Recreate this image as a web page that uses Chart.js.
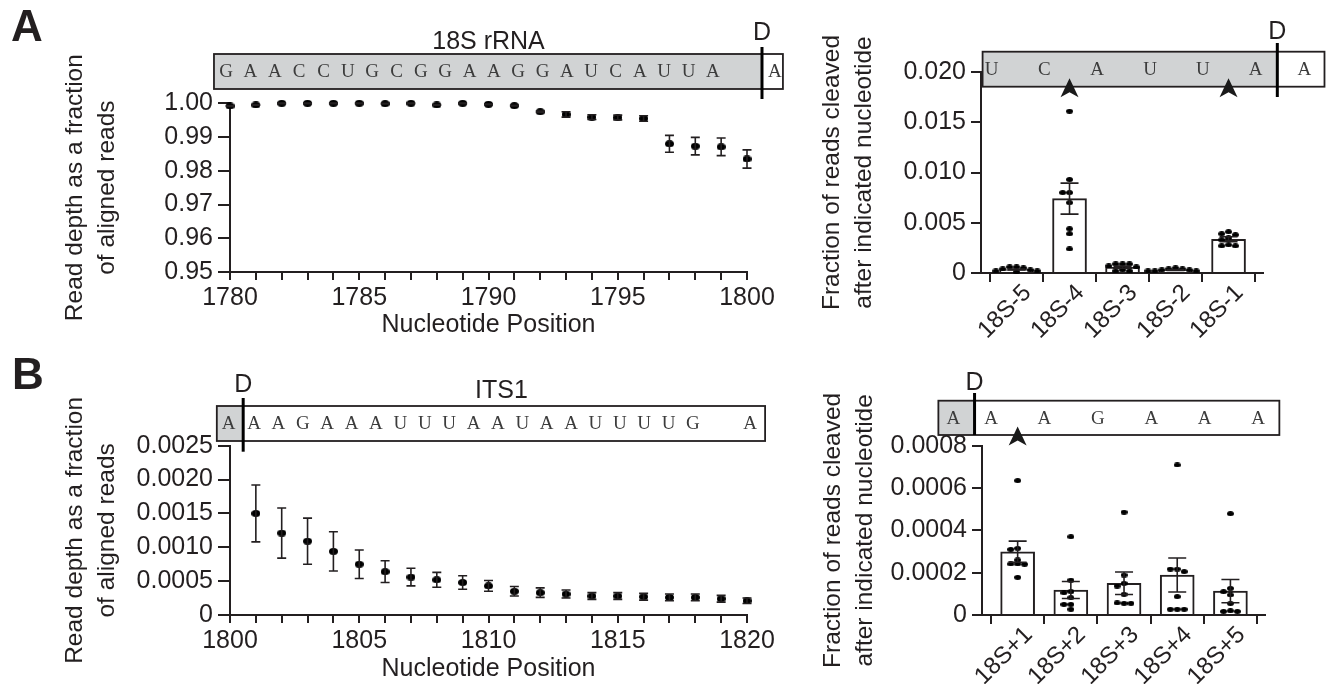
<!DOCTYPE html>
<html>
<head>
<meta charset="utf-8">
<script src="https://cdn.jsdelivr.net/npm/chart.js@4.4.1/dist/chart.umd.min.js"></script>
<style>
html,body{margin:0;padding:0;background:#fff;}
#wrap{position:relative;width:1330px;height:684px;overflow:hidden;background:#fff;}
#wrap canvas{position:absolute;}
.panel{position:absolute;font-family:'Liberation Sans',Arial,sans-serif;font-weight:bold;font-size:44px;line-height:44px;color:#231f20;}
</style>
</head>
<body>
<div id="wrap">
  <canvas id="a1" width="800" height="340" style="left:0;top:0"></canvas>
  <canvas id="a2" width="530" height="340" style="left:800px;top:0"></canvas>
  <canvas id="b1" width="800" height="344" style="left:0;top:340px"></canvas>
  <canvas id="b2" width="530" height="344" style="left:800px;top:340px"></canvas>
  <div class="panel" style="left:11px;top:4px">A</div>
  <div class="panel" style="left:12px;top:352px">B</div>
</div>
<script>
// ---------------- DATA ----------------
// Panel A, left: read depth across the 3' end of 18S rRNA
const positionsA = [1780,1781,1782,1783,1784,1785,1786,1787,1788,1789,1790,1791,1792,1793,1794,1795,1796,1797,1798,1799,1800];
const depthA = [0.9992,0.9995,1.0000,1.0000,1.0000,1.0000,0.9999,1.0000,0.9995,1.0000,0.9997,0.9993,0.9975,0.9967,0.9959,0.9958,0.9955,0.9880,0.9873,0.9871,0.9835];
const depthSemA = [0.0001,0.0001,0.0001,0.0001,0.0001,0.0001,0.0001,0.0001,0.0001,0.0001,0.0001,0.0001,0.0002,0.0008,0.0007,0.0007,0.0008,0.0025,0.0026,0.0026,0.0027];
const yTicksA = [0.95,0.96,0.97,0.98,0.99,1.00];

// Panel B, left: read depth into ITS1
const positionsB = [1801,1802,1803,1804,1805,1806,1807,1808,1809,1810,1811,1812,1813,1814,1815,1816,1817,1818,1819,1820];
const depthB = [0.00150,0.00121,0.00109,0.00094,0.00075,0.00064,0.00056,0.00052,0.00048,0.00043,0.00035,0.00033,0.00031,0.00028,0.00028,0.00027,0.00026,0.00026,0.00024,0.00021];
const depthSemB = [0.00042,0.00037,0.00034,0.00029,0.00021,0.00016,0.00013,0.00011,0.00010,0.00008,0.00007,0.00007,0.00006,0.00005,0.00005,0.00005,0.00005,0.00005,0.00005,0.00004];

// Panel A, right: fraction of reads cleaved after nucleotide
const categoriesA = ['18S-5','18S-4','18S-3','18S-2','18S-1'];
const meanA = [0.00035,0.0074,0.00058,0.0003,0.00336];
const semA = [0.00005,0.00154,0.0001,0.00004,0.00025];
const dotsA = [
  [0.0006,0.0006,0.0005,0.0004,0.0003,0.0002,0.0002,0.0001],
  [0.0161,0.0093,0.0080,0.0080,0.0070,0.0044,0.0039,0.0024],
  [0.0009,0.0009,0.0009,0.0007,0.0006,0.0003,0.0002,0.0002],
  [0.0005,0.0004,0.0004,0.0003,0.0003,0.0002,0.0002,0.0002],
  [0.0041,0.0039,0.0038,0.0035,0.0033,0.0028,0.0027,0.0027]
];

// Panel B, right
const categoriesB = ['18S+1','18S+2','18S+3','18S+4','18S+5'];
const meanB = [0.000299,0.000118,0.00015,0.000189,0.000113];
const semB = [0.00005,0.00004,0.000053,0.00008,0.000055];
const dotsB = [
  [0.000635,0.000315,0.00031,0.00026,0.000241,0.000241,0.00024,0.000178],
  [0.00037,0.000165,0.00011,0.000105,0.000082,0.00005,0.00005,0.000027],
  [0.000486,0.000189,0.00015,0.000137,0.000098,0.000055,0.000057,0.000055],
  [0.000709,0.000217,0.000217,0.000205,0.000087,0.000027,0.000027,0.000027],
  [0.000479,0.000126,0.00011,0.000095,0.000055,0.00002,0.000017,0.000017]
];

// Sequences shown above the plots
const seq18S = 'GAACCUGCGGAAGGAUCAUUA';
const seqA2 = 'UCAUUA';
const seqITS1 = 'AAGAAAUUUAAUAAUUUUG';
const seqB2 = 'AAGAAA';
const arrowsA = [1, 4];   // category indices marked with arrowheads
const arrowsB = [0];

// ---------------- STYLE / HELPERS ----------------
const INK = '#231f20';
Chart.defaults.font.family = "'Liberation Sans', Arial, sans-serif";
Chart.defaults.font.size = 25;
Chart.defaults.color = INK;

function ellipseDot(w, h) {
  const c = document.createElement('canvas');
  c.width = w; c.height = h;
  const g = c.getContext('2d');
  g.fillStyle = '#000';
  g.beginPath(); g.ellipse(w/2, h/2, w/2, h/2, 0, 0, Math.PI*2); g.fill();
  return c;
}
const bigDot = ellipseDot(9, 7);
const smallDot = ellipseDot(7, 5);

// simple beeswarm spread of replicate dots around each category
function swarm(groups, range, step) {
  const tol = range * 0.02;
  const out = [];
  groups.forEach((vals, c) => {
    const placed = [];
    vals.forEach(v => {
      const near = placed.filter(p => Math.abs(p.y - v) < tol).map(p => p.off);
      let off = 0;
      for (let k = 0; k < 30; k++) {
        const cand = k === 0 ? 0 : (k % 2 ? -1 : 1) * Math.ceil(k/2) * step;
        if (!near.some(o => Math.abs(o - cand) < step*0.6)) { off = cand; break; }
      }
      placed.push({y: v, off});
      out.push({x: c + off, y: v});
    });
  });
  return out;
}

const errorBars = {
  id: 'errorBars',
  afterDatasetsDraw(chart) {
    const ctx = chart.ctx, ys = chart.scales.y;
    chart.data.datasets.forEach((ds, di) => {
      if (!ds.errors) return;
      const meta = chart.getDatasetMeta(di);
      ctx.save();
      ctx.strokeStyle = INK;
      ctx.lineWidth = 1.6;
      meta.data.forEach((el, i) => {
        const d = ds.data[i];
        const val = typeof d === 'object' ? d.y : d;
        const e = ds.errors[i];
        const x = el.x;
        const y1 = ys.getPixelForValue(val + e), y2 = ys.getPixelForValue(val - e);
        const w = ds.capWidth / 2;
        ctx.beginPath();
        ctx.moveTo(x, y1); ctx.lineTo(x, y2);
        ctx.moveTo(x - w, y1); ctx.lineTo(x + w, y1);
        ctx.moveTo(x - w, y2); ctx.lineTo(x + w, y2);
        ctx.stroke();
      });
      ctx.restore();
    });
  }
};

function seqPlugin(o) {
  return {
    id: 'seqBox',
    afterDraw(chart) {
      const ctx = chart.ctx, xs = chart.scales.x, top = chart.chartArea.top;
      const px = v => xs.getPixelForValue(v);
      const bx0 = px(o.from), bx1 = px(o.to), dx = px(o.d);
      const by0 = top + o.top, by1 = top + o.bottom;
      ctx.save();
      ctx.fillStyle = '#ffffff';
      ctx.fillRect(bx0, by0, bx1 - bx0, by1 - by0);
      ctx.fillStyle = '#d1d3d4';
      ctx.fillRect(bx0, by0, dx - bx0, by1 - by0);
      ctx.strokeStyle = INK; ctx.lineWidth = 1.8;
      ctx.strokeRect(bx0, by0, bx1 - bx0, by1 - by0);
      ctx.font = "19px 'Liberation Serif', serif";
      ctx.fillStyle = '#3c3c3c';
      ctx.textAlign = 'center'; ctx.textBaseline = 'middle';
      o.groups.forEach(g => {
        const n = g.text.length;
        for (let i = 0; i < n; i++) {
          const v = n === 1 ? g.start : g.start + (g.end - g.start) * i / (n - 1);
          ctx.fillText(g.text[i], px(v), (by0 + by1) / 2 + 1);
        }
      });
      ctx.strokeStyle = '#000'; ctx.lineWidth = 3;
      ctx.beginPath(); ctx.moveTo(dx, top + o.dTop); ctx.lineTo(dx, top + o.dBottom); ctx.stroke();
      ctx.font = "25px 'Liberation Sans', Arial, sans-serif";
      ctx.fillStyle = INK;
      ctx.fillText('D', dx, top + o.dLabel);
      if (o.title) ctx.fillText(o.title, px(o.titleAt), top + o.titleY);
      ctx.fillStyle = '#1a1a1a';
      (o.arrows || []).forEach(a => {
        const x = px(a), tip = by1 - 8.5, base = by1 + 10.5;
        ctx.beginPath();
        ctx.moveTo(x, tip); ctx.lineTo(x + 9, base); ctx.lineTo(x, base - 5); ctx.lineTo(x - 9, base);
        ctx.closePath(); ctx.fill();
      });
      ctx.restore();
    }
  };
}

function axisBase(extra) {
  return Object.assign({
    border: {color: INK, width: 2},
    grid: {drawOnChartArea: false, color: INK, lineWidth: 2}
  }, extra);
}

const commonPlugins = {legend: {display: false}, tooltip: {enabled: false}};
const fmt = d => v => Math.abs(v) < 1e-12 ? '0' : v.toFixed(d);

// ---------------- PANEL A LEFT ----------------
new Chart(document.getElementById('a1'), {
  type: 'scatter',
  data: {datasets: [{
    data: positionsA.map((p, i) => ({x: p, y: depthA[i]})),
    errors: depthSemA, capWidth: 9,
    pointStyle: bigDot, pointRadius: 4, clip: false
  }]},
  options: {
    responsive: false, animation: false,
    layout: {padding: {left: 60, top: 103.3, right: 53, bottom: 0}},
    plugins: commonPlugins,
    scales: {
      x: axisBase({
        type: 'linear', min: 1780, max: 1800,
        grid: {drawOnChartArea: false, color: INK, lineWidth: 2, tickLength: 8},
        ticks: {stepSize: 1, autoSkip: false, maxRotation: 0, padding: 3,
                callback: v => v % 5 === 0 ? String(v) : ''},
        title: {display: true, text: 'Nucleotide Position', font: {size: 25}, padding: {top: 0, bottom: 0}},
        afterFit: s => { s.height = 68; }
      }),
      y: axisBase({
        min: 0.95, max: 1.0,
        grid: {drawOnChartArea: false, color: INK, lineWidth: 2, tickLength: 12},
        afterBuildTicks: s => { s.ticks = yTicksA.map(v => ({value: v})); },
        ticks: {padding: 5, callback: fmt(2)},
        title: {display: true, text: ['Read depth as a fraction', 'of aligned reads'],
                font: {size: 24.5, lineHeight: 1.28}, padding: {top: 0, bottom: 0}},
        afterFit: s => { s.width = 170; }
      })
    }
  },
  plugins: [errorBars, seqPlugin({
    from: 1779.38, to: 1801.39, d: 1800.58, top: -49.3, bottom: -14.3,
    dTop: -56.3, dBottom: -4.3, dLabel: -70.3,
    title: '18S rRNA', titleAt: 1790.0, titleY: -61.6,
    groups: [{text: seq18S, start: 1779.85, end: 1798.68}, {text: 'A', start: 1801.08, end: 1801.08}]
  })]
});

// ---------------- PANEL B LEFT ----------------
new Chart(document.getElementById('b1'), {
  type: 'scatter',
  data: {datasets: [{
    data: positionsB.map((p, i) => ({x: p, y: depthB[i]})),
    errors: depthSemB, capWidth: 9,
    pointStyle: bigDot, pointRadius: 4, clip: false
  }]},
  options: {
    responsive: false, animation: false,
    layout: {padding: {left: 60, top: 105.7, right: 53, bottom: 0}},
    plugins: commonPlugins,
    scales: {
      x: axisBase({
        type: 'linear', min: 1800, max: 1820,
        grid: {drawOnChartArea: false, color: INK, lineWidth: 2, tickLength: 8},
        ticks: {stepSize: 1, autoSkip: false, maxRotation: 0, padding: 3,
                callback: v => v % 5 === 0 ? String(v) : ''},
        title: {display: true, text: 'Nucleotide Position', font: {size: 25}, padding: {top: 0, bottom: 0}},
        afterFit: s => { s.height = 69; }
      }),
      y: axisBase({
        min: 0, max: 0.0025,
        grid: {drawOnChartArea: false, color: INK, lineWidth: 2, tickLength: 12},
        ticks: {stepSize: 0.0005, padding: 5, callback: fmt(4)},
        title: {display: true, text: ['Read depth as a fraction', 'of aligned reads'],
                font: {size: 24.5, lineHeight: 1.28}, padding: {top: 0, bottom: 0}},
        afterFit: s => { s.width = 170; }
      })
    }
  },
  plugins: [errorBars, seqPlugin({
    from: 1799.49, to: 1820.7, d: 1800.51, top: -39.7, bottom: -4.7,
    dTop: -47.7, dBottom: 6, dLabel: -60.2,
    title: 'ITS1', titleAt: 1810.5, titleY: -54.7,
    groups: [{text: 'A', start: 1799.95, end: 1799.95}, {text: seqITS1, start: 1800.93, end: 1817.91},
             {text: 'A', start: 1820.12, end: 1820.12}]
  })]
});

// ---------------- BAR PANELS ----------------
function barChart(id, cats, means, sems, dots, yMax, yStep, digits, padL, padR, padT, xH, seqCfg) {
  return new Chart(document.getElementById(id), {
    type: 'bar',
    data: {datasets: [
      {type: 'bar', data: means.map((m, i) => ({x: i, y: m})), errors: sems, capWidth: 18,
       backgroundColor: '#ffffff', borderColor: INK, borderWidth: 2, barThickness: 34, order: 2},
      {type: 'scatter', data: swarm(dots, yMax, 0.13), pointStyle: smallDot, pointRadius: 3,
       clip: false, order: 1}
    ]},
    options: {
      responsive: false, animation: false,
      layout: {padding: {left: padL, top: padT, right: padR, bottom: 0}},
      plugins: commonPlugins,
      scales: {
        x: axisBase({
          type: 'linear', min: -0.67, max: 4.65, offset: false,
          grid: {drawOnChartArea: false, color: INK, lineWidth: 2, tickLength: 9},
          afterBuildTicks: s => { s.ticks = cats.map((c, i) => ({value: i})); },
          ticks: {autoSkip: false, minRotation: 45, maxRotation: 45, padding: -3, labelOffset: 11,
                  font: {size: 24}, callback: v => cats[Math.round(v)] || ''},
          afterFit: s => { s.height = xH; }
        }),
        y: axisBase({
          min: 0, max: yMax,
          grid: {drawOnChartArea: false, color: INK, lineWidth: 2, tickLength: 10},
          ticks: {stepSize: yStep, padding: 5, callback: fmt(digits)},
          title: {display: true, text: ['Fraction of reads cleaved', 'after indicated nucleotide'],
                  font: {size: 24.5, lineHeight: 1.28}, padding: {top: 0, bottom: 0}},
          afterFit: s => { s.width = 164; }
        })
      }
    },
    plugins: [errorBars, seqPlugin(seqCfg)]
  });
}

barChart('a2', categoriesA, meanA, semA, dotsA, 0.020, 0.005, 3, 17, 67, 72, 67, {
  from: -0.64, to: 5.81, d: 4.92, top: -20.3, bottom: 14.7,
  dTop: -29, dBottom: 25, dLabel: -40,
  groups: [{text: seqA2, start: -0.47, end: 4.51}, {text: 'A', start: 5.43, end: 5.43}],
  arrows: arrowsA
});

barChart('b2', categoriesB, meanB, semB, dotsB, 0.0008, 0.0002, 4, 18, 65, 105.7, 69, {
  from: -1.49, to: 4.92, d: -0.81, top: -45, bottom: -10.7,
  dTop: -52.7, dBottom: -10.7, dLabel: -62.2,
  groups: [{text: 'A', start: -1.21, end: -1.21}, {text: seqB2, start: -0.5, end: 4.52}],
  arrows: arrowsB
});
</script>
</body>
</html>
